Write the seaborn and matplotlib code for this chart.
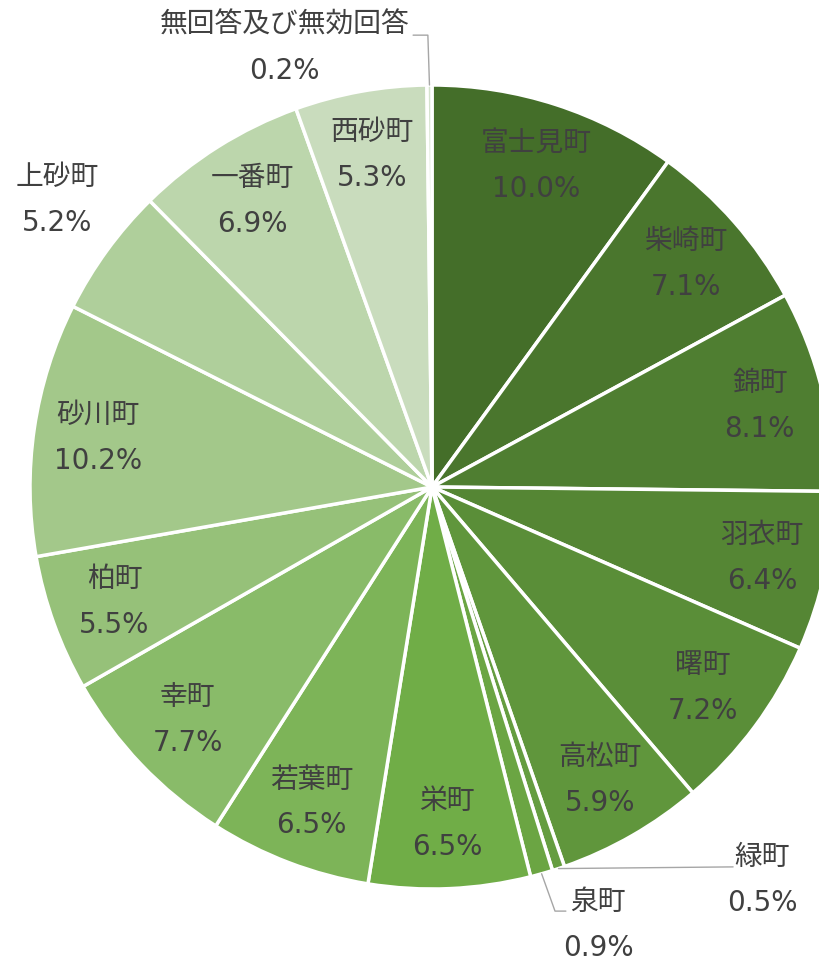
import numpy as np
import seaborn as sns
import matplotlib.pyplot as plt

# 地区別の割合 (%)
names = ["富士見町", "柴崎町", "錦町", "羽衣町", "曙町", "高松町", "緑町", "泉町",
         "栄町", "若葉町", "幸町", "柏町", "砂川町", "上砂町", "一番町", "西砂町",
         "無回答及び無効回答"]
pcts = [10.0, 7.1, 8.1, 6.4, 7.2, 5.9, 0.5, 0.9, 6.5, 6.5, 7.7, 5.5, 10.2, 5.2, 6.9, 5.3, 0.2]

sns.set_theme(style="white")
plt.rcParams["font.family"] = ["Noto Sans CJK JP", "DejaVu Sans"]

dark = sns.blend_palette(["#446e29", "#70ad47"], 9)
light = sns.blend_palette(["#70ad47", "#d5e3cd"], 9)
colors = list(dark) + list(light[1:])

txt = "#404040"
lead = "#a6a6a6"
fs = 20

fig = plt.figure(figsize=(8.19, 9.63), dpi=100)
ax = fig.add_axes([0, 0, 1, 1])
wedges, _ = ax.pie(pcts, colors=colors, startangle=90, counterclock=False, radius=1,
                   wedgeprops=dict(edgecolor="white", linewidth=2.5))
ax.set_xlim(-432 / 402, 387 / 402)
ax.set_ylim(-476 / 402, 487 / 402)
ax.set_aspect("equal")
ax.axis("off")

# 外側に置くラベル (中心位置)
outside = {
    "上砂町": (-0.933, 0.714),
    "無回答及び無効回答": (-0.366, 1.092),
    "緑町": (0.821, -0.978),
    "泉町": (0.413, -1.090),
}
gap = 0.057


def label(x, y, name, pct):
    ax.text(x, y + gap, name, ha="center", va="center", fontsize=fs, color=txt)
    ax.text(x, y - gap, f"{pct:.1f}%", ha="center", va="center", fontsize=fs,
            color=txt, family="DejaVu Sans")


for w, name, pct in zip(wedges, names, pcts):
    mid = np.deg2rad((w.theta1 + w.theta2) / 2)
    ex, ey = np.cos(mid), np.sin(mid)
    if name in outside:
        lx, ly = outside[name]
        label(lx, ly, name, pct)
        if name == "無回答及び無効回答":
            ax.plot([ex, ex - 0.004, -0.047], [ey, 1.124, 1.124], color=lead, lw=1)
        elif name == "緑町":
            ax.plot([ex, 0.749], [ey, -0.945], color=lead, lw=1)
        elif name == "泉町":
            ax.plot([ex, 0.306, 0.333], [ey, -1.055, -1.055], color=lead, lw=1)
    else:
        label(0.84 * ex, 0.84 * ey, name, pct)

fig.savefig("out.png", dpi=100)
